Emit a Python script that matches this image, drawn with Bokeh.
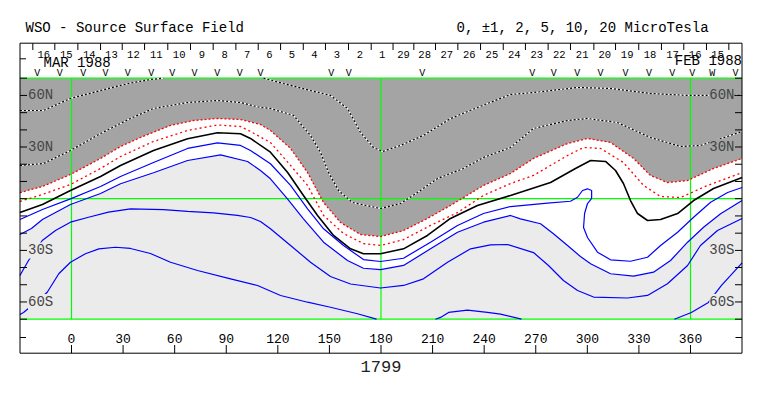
from bokeh.plotting import figure
from bokeh.models import Label, Range1d
from bokeh.core.properties import value
from bokeh.embed import file_html
from bokeh.resources import INLINE

# ---------------- data (longitude in degrees, latitude as sine latitude) ----------------
LON_TICKS = [0, 30, 60, 90, 120, 150, 180, 210, 240, 270, 300, 330, 360]
LON_TICK_LABELS = [str(v) for v in LON_TICKS]
LAT_TICKS_SIN = [-1.0, -0.857, -0.714, -0.571, -0.429, -0.286, -0.143, 0.0,
                 0.143, 0.286, 0.429, 0.571, 0.714, 0.857, 1.0]
LAT_LABEL_SIN = [0.857, 0.429, -0.429, -0.857]
LAT_LABELS = ["60N", "30N", "30S", "60S"]

DAY_TICK_LON = [-22.5, -9.7, 3.7, 16.9, 29.5, 42.5, 56.0, 69.2, 82.4, 95.6, 108.6, 121.6,
                134.8, 147.7, 161.1, 174.3, 187.0, 199.1, 211.7, 224.7, 237.9, 251.1, 264.0,
                277.2, 290.2, 303.8, 316.4, 329.9, 343.1, 356.1, 369.3, 382.3]
DAY_LABELS = ["16", "15", "14", "13", "12", "11", "10", "9", "8", "7", "6", "5", "4", "3", "2", "1",
              "29", "28", "27", "26", "25", "24", "23", "22", "21", "20", "19", "18", "17", "16", "15"]

OBS_LON = [-19.9, -6.8, 6.8, 19.8, 32.7, 46.4, 58.6, 71.5, 84.7, 97.9, 109.9, 151.0, 161.3,
           204.0, 268.0, 280.5, 294.1, 307.7, 322.2, 335.8, 349.4, 361.0, 372.6, 386.2]
OBS_MARK = ["V"] * 22 + ["W", "V"]

# +10 contour (two pieces)
P10A_LON = [-30, -16.3, -0.6, 16.9, 34.3, 45.9, 53.5]
P10A_S = [0.732, 0.732, 0.832, 0.898, 0.96, 0.989, 1.0]
P10B_LON = [111.7, 123.3, 139.0, 150.6, 160.5, 168.1, 175.6, 180.9, 191.3, 204.7, 220.4, 236.1,
            255.3, 268.7, 294.3, 313.5, 336.7, 358.3, 390]
P10B_S = [1.0, 0.956, 0.898, 0.857, 0.749, 0.549, 0.425, 0.392, 0.442, 0.525, 0.665, 0.757,
          0.865, 0.881, 0.923, 0.915, 0.873, 0.857, 0.857]
# +5 contour
P5_LON = [-30, -16.3, -0.6, 16.9, 34.3, 47.7, 67.5, 84.9, 98.3, 109.9, 115.7, 129.1, 139.0, 144.8,
          149.5, 155.3, 163.4, 179.7, 191.3, 201.2, 212.9, 228.0, 239.6, 255.3, 268.7, 288.5,
          300.1, 317.5, 336.7, 354.2, 365.8, 390]
P5_S = [0.276, 0.292, 0.4, 0.541, 0.666, 0.749, 0.798, 0.815, 0.798, 0.757, 0.749, 0.691, 0.525,
        0.384, 0.218, 0.068, -0.032, -0.081, -0.04, 0.051, 0.168, 0.251, 0.342, 0.425, 0.583,
        0.649, 0.666, 0.632, 0.508, 0.433, 0.442, 0.558]
# +2 contour (edge of the dark shading)
P2_LON = [-30, -16.9, -0.6, 16.9, 28.5, 40.1, 57.6, 71.0, 84.9, 98.3, 109.9, 115.7, 127.4, 137.3,
          146.6, 156.5, 168.1, 179.7, 193.1, 207.0, 220.4, 239.6, 255.3, 268.7, 288.5, 300.1,
          313.5, 326.9, 336.7, 346.6, 358.3, 373.4, 390]
P2_S = [0.051, 0.101, 0.201, 0.334, 0.433, 0.508, 0.608, 0.649, 0.666, 0.657, 0.616, 0.566, 0.417,
        0.217, -0.032, -0.198, -0.297, -0.314, -0.264, -0.164, -0.056, 0.11, 0.209, 0.334, 0.458,
        0.5, 0.467, 0.334, 0.193, 0.134, 0.151, 0.251, 0.334]
# +1 contour
P1_LON = [-30, -16.9, -0.6, 16.9, 28.5, 47.7, 67.5, 84.9, 98.3, 104.1, 115.7, 127.4, 137.3, 146.6,
          158.2, 169.8, 179.7, 193.1, 208.8, 224.5, 239.6, 255.3, 268.7, 288.5, 297.8, 307.7,
          321.0, 332.7, 342.6, 354.2, 369.9, 390]
P1_S = [-0.023, 0.035, 0.118, 0.251, 0.35, 0.475, 0.566, 0.612, 0.599, 0.558, 0.466, 0.276, 0.11,
        -0.139, -0.289, -0.372, -0.388, -0.339, -0.222, -0.115, 0.027, 0.126, 0.193, 0.359,
        0.425, 0.417, 0.3, 0.11, 0.018, 0.01, 0.11, 0.217]
# neutral line (0)
N0_LON = [-30, -16.9, -0.6, 16.9, 28.5, 47.7, 67.5, 84.9, 98.3, 104.1, 115.7, 125.6, 134.9, 143.1,
          152.4, 162.3, 169.8, 179.7, 193.1, 207.0, 220.4, 236.1, 255.3, 278.6, 293.1, 301.9,
          310.6, 316.4, 321.0, 325.1, 329.2, 335.0, 342.6, 352.5, 361.8, 373.4, 390]
N0_S = [-0.115, -0.048, 0.068, 0.184, 0.276, 0.4, 0.497, 0.547, 0.539, 0.5, 0.386, 0.22, 0.027,
        -0.139, -0.305, -0.416, -0.457, -0.457, -0.416, -0.305, -0.164, -0.056, 0.027, 0.134,
        0.251, 0.317, 0.309, 0.234, 0.126, -0.015, -0.123, -0.181, -0.173, -0.123, -0.015,
        0.085, 0.176]
# -1 contour
M1_LON = [-30, -16.9, -0.6, 16.9, 28.5, 47.7, 67.5, 84.9, 98.3, 104.1, 115.7, 127.4, 137.3, 146.6,
          158.2, 169.8, 179.7, 193.1, 208.8, 224.5, 239.6, 255.3, 276.8, 290.2, 294.3, 297.2,
          300.1, 302.5, 302.5, 300.1, 298.4, 297.8, 300.1, 305.9, 313.5, 325.1, 335.0, 342.6,
          352.5, 361.8, 371.7, 381.6, 390]
M1_S = [-0.173, -0.09, -0.001, 0.101, 0.184, 0.3, 0.417, 0.464, 0.442, 0.4, 0.29, 0.11, -0.084,
        -0.25, -0.388, -0.505, -0.521, -0.494, -0.361, -0.222, -0.123, -0.065, -0.037, -0.021,
        0.012, 0.068, 0.082, 0.068, 0.002, -0.04, -0.123, -0.239, -0.322, -0.444, -0.507,
        -0.519, -0.486, -0.388, -0.278, -0.154, -0.029, 0.051, 0.093]
# -2 contour (edge of the light shading)
M2_LON = [-30, -23.3, -16.9, -0.6, 16.9, 28.5, 47.7, 67.5, 86.7, 102.4, 109.9, 115.7, 125.6, 134.9,
          146.6, 160.5, 169.8, 179.7, 193.1, 208.8, 224.5, 239.6, 255.3, 261.1, 272.8, 280.3,
          288.5, 296.0, 301.9, 313.5, 326.9, 338.5, 348.4, 358.3, 367.6, 377.5, 390]
M2_S = [-0.297, -0.247, -0.173, -0.048, 0.043, 0.124, 0.215, 0.317, 0.364, 0.309, 0.234, 0.165,
        -0.001, -0.167, -0.361, -0.513, -0.577, -0.588, -0.554, -0.416, -0.278, -0.195, -0.139,
        -0.167, -0.208, -0.291, -0.388, -0.48, -0.54, -0.623, -0.643, -0.61, -0.513, -0.361,
        -0.237, -0.125, -0.015]
# -5 contour
M5_LON = [-30, -25.0, -17.0, -9.3, -0.6, 9.9, 21.5, 34.3, 53.5, 67.5, 82.6, 96.5, 104.1, 109.9,
          115.7, 127.4, 139.0, 150.6, 162.3, 179.7, 193.1, 204.7, 218.7, 232.1, 243.7, 253.6,
          268.7, 277.4, 286.1, 294.3, 303.6, 323.4, 335.0, 346.6, 358.3, 365.8, 375.7, 390]
M5_S = [-0.637, -0.513, -0.347, -0.264, -0.195, -0.154, -0.112, -0.084, -0.09, -0.106, -0.117,
        -0.139, -0.156, -0.189, -0.25, -0.388, -0.527, -0.646, -0.708, -0.741, -0.72, -0.665,
        -0.527, -0.416, -0.383, -0.38, -0.447, -0.554, -0.679, -0.762, -0.816, -0.824, -0.803,
        -0.706, -0.554, -0.388, -0.264, -0.164]
# -10 contour (three pieces)
M10A_LON = [-30, -27.9, -20.9, -14.1, -7.4, -0.6, 8.1, 15.9, 25.6, 34.3, 45.9, 57.6, 73.3, 92.5,
            108.2, 121.6, 137.3, 150.6, 166.3, 177.4]
M10A_S = [-0.961, -0.945, -0.862, -0.776, -0.623, -0.527, -0.457, -0.416, -0.403, -0.413, -0.455,
          -0.527, -0.596, -0.665, -0.72, -0.803, -0.859, -0.901, -0.955, -1.0]
M10B_LON = [211.7, 214.6, 219.3, 230.3, 241.9, 249.5, 261.7]
M10B_S = [-1.0, -0.985, -0.944, -0.924, -0.944, -0.958, -1.0]
M10C_LON = [350.6, 360.5, 370.4, 377.9, 390]
M10C_S = [-1.0, -0.944, -0.861, -0.722, -0.532]

# ---------------- layout helpers (picture pixels -> data) ----------------
PPD = 619.0 / 360.0
def lx(px):
    return (px - 71.0) / PPD

def sy(py):
    return (198.2 - py) / 120.5

DARK = "#a4a4a4"
LIGHT = "#ebebeb"
GREEN = "#00ff00"
FONT = "Liberation Mono"

W, H = 747, 380
p = figure(width=W, height=H, x_range=Range1d(lx(0), lx(W)), y_range=Range1d(sy(H), sy(0)),
           toolbar_location=None, output_backend="svg", x_axis_location=None, y_axis_location=None,
           min_border=0, outline_line_color=None, background_fill_color="white",
           border_fill_color="white")
try:
    p.xgrid.visible = False
    p.ygrid.visible = False
except Exception:
    pass

LON_L, LON_R = lx(19.5), lx(741.5)

# shading
p.patch(P2_LON + [P2_LON[-1], P2_LON[0]], P2_S + [1.0, 1.0], fill_color=DARK, line_color=None)
p.patch(M2_LON + [M2_LON[-1], M2_LON[0]], M2_S + [-1.0, -1.0], fill_color=LIGHT, line_color=None)

# green reference lines
p.multi_line(xs=[[LON_L, LON_R], [LON_L, LON_R], [LON_L, LON_R], [0, 0], [180, 180], [360, 360]],
             ys=[[0, 0], [1, 1], [-1, -1], [-1, 1], [-1, 1], [-1, 1]],
             line_color=GREEN, line_width=1.2)

# positive strong contours: white/black dotted
for lo, la in [(P10A_LON, P10A_S), (P10B_LON, P10B_S), (P5_LON, P5_S)]:
    p.line(lo, la, line_color="white", line_width=1.2)
    p.line(lo, la, line_color="black", line_width=1.2, line_dash="2 2")

p.line(P2_LON, P2_S, line_color="red", line_width=1.3, line_dash="2 2")
p.line(P1_LON, P1_S, line_color="red", line_width=1.3, line_dash="2 3")
p.line(N0_LON, N0_S, line_color="black", line_width=1.6)
for lo, la in [(M1_LON, M1_S), (M2_LON, M2_S), (M5_LON, M5_S),
               (M10A_LON, M10A_S), (M10B_LON, M10B_S), (M10C_LON, M10C_S)]:
    p.line(lo, la, line_color="blue", line_width=1.2)

# frame box
p.quad(left=LON_L, right=LON_R, bottom=sy(352.7), top=sy(42.7), fill_color=None,
       line_color="black", line_width=1)

# latitude ticks (inside, both sides)
p.segment(x0=[LON_L] * len(LAT_TICKS_SIN), y0=LAT_TICKS_SIN, x1=[lx(26.5)] * len(LAT_TICKS_SIN),
          y1=LAT_TICKS_SIN, line_color="black", line_width=1)
p.segment(x0=[lx(734.5)] * len(LAT_TICKS_SIN), y0=LAT_TICKS_SIN, x1=[LON_R] * len(LAT_TICKS_SIN),
          y1=LAT_TICKS_SIN, line_color="black", line_width=1)
for s_, t_ in zip(LAT_LABEL_SIN, LAT_LABELS):
    bg = DARK if s_ > 0 else LIGHT
    p.add_layout(Label(x=lx(27.5), y=s_, text=t_, text_font=FONT, text_font_size="14px",
                       text_align="left", text_baseline="middle", background_fill_color=bg))
    p.add_layout(Label(x=lx(734), y=s_, text=t_, text_font=FONT, text_font_size="14px",
                       text_align="right", text_baseline="middle", background_fill_color=bg))

# longitude ticks / labels (bottom band)
p.segment(x0=LON_TICKS, y0=[sy(352.7)] * len(LON_TICKS), x1=LON_TICKS, y1=[sy(344.5)] * len(LON_TICKS),
          line_color="black", line_width=1)
p.text(x=LON_TICKS, y=[sy(337.5)] * len(LON_TICKS), text=LON_TICK_LABELS, text_font=value(FONT),
       text_font_size="13px", text_align="center", text_baseline="middle", text_color="black")
p.segment(x0=[LON_L, lx(735)], y0=[sy(337), sy(337)], x1=[lx(25.5), LON_R], y1=[sy(337), sy(337)],
          line_color="black", line_width=1)
p.text(x=[180], y=[sy(366)], text=["1799"], text_font=value(FONT), text_font_size="17px",
       text_align="center", text_baseline="middle", text_color="#222222")

# day ticks / labels (top band)
p.segment(x0=DAY_TICK_LON, y0=[sy(42.7)] * len(DAY_TICK_LON), x1=DAY_TICK_LON,
          y1=[sy(49.5)] * len(DAY_TICK_LON), line_color="black", line_width=1)
day_mid = [(a + b) / 2.0 for a, b in zip(DAY_TICK_LON[:-1], DAY_TICK_LON[1:])]
p.text(x=day_mid, y=[sy(53.5)] * len(day_mid), text=DAY_LABELS, text_font=value(FONT),
       text_font_size="10.5px", text_align="center", text_baseline="middle", text_color="black")
p.segment(x0=[LON_L], y0=[sy(58.3)], x1=[lx(25.5)], y1=[sy(58.3)], line_color="black", line_width=1)
p.text(x=[lx(43)], y=[sy(62)], text=["MAR 1988"], text_font=value(FONT), text_font_size="14px",
       text_align="left", text_baseline="middle", text_color="black")
p.text(x=[lx(741.5)], y=[sy(60)], text=["FEB 1988"], text_font=value(FONT), text_font_size="14px",
       text_align="right", text_baseline="middle", text_color="black")
p.text(x=OBS_LON, y=[sy(72.5)] * len(OBS_LON), text=OBS_MARK, text_font=value(FONT),
       text_font_size="10px", text_align="center", text_baseline="middle", text_color="black")

# titles
p.text(x=[lx(25)], y=[sy(27)], text=["WSO - Source Surface Field"], text_font=value(FONT),
       text_font_size="14px", text_align="left", text_baseline="middle", text_color="black")
p.text(x=[lx(456)], y=[sy(27)], text=["0, \u00b11, 2, 5, 10, 20 MicroTesla"], text_font=value(FONT),
       text_font_size="14px", text_align="left", text_baseline="middle", text_color="black")

open("out.html", "w").write(file_html(p, INLINE))
